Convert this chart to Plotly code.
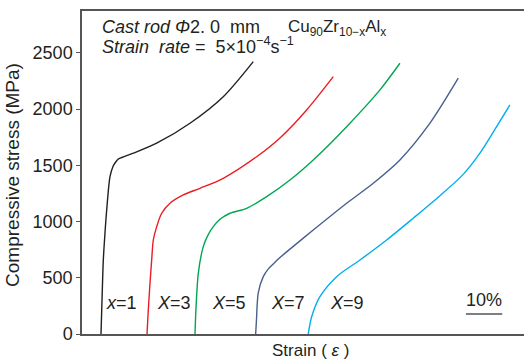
import plotly.graph_objects as go

# Strain (%, horizontally offset per curve) and compressive stress (MPa)
labels = ["x=1", "X=3", "X=5", "X=7", "X=9"]
colors = ["#231f20", "#ed1c24", "#00a651", "#4a5f8e", "#00aeef"]

strain_x1 = [5.28, 5.56, 5.92, 6.39, 6.86, 7.78, 8.61, 9.17, 10.0, 11.03, 14.25, 20.75, 30.0, 39.25, 47.58]
stress_x1 = [0, 300, 658, 900, 1103, 1400, 1490, 1521, 1555, 1570, 1608, 1697, 1875, 2111, 2423]

strain_x3 = [18.06, 18.42, 18.89, 19.36, 19.81, 20.75, 22.14, 24.44, 28.14, 32.78, 39.25, 48.53, 55.0, 62.42, 69.81]
stress_x3 = [0, 214, 450, 658, 836, 955, 1074, 1163, 1237, 1296, 1385, 1577, 1744, 1993, 2289]

strain_x5 = [31.39, 31.7, 32.31, 33.69, 35.0, 36.47, 38.33, 41.11, 45.75, 51.31, 57.78, 64.25, 73.53, 82.78, 88.33]
stress_x5 = [0, 250, 540, 777, 880, 955, 1020, 1074, 1118, 1222, 1370, 1548, 1844, 2171, 2408]

strain_x7 = [48.25, 48.47, 48.97, 50.36, 51.67, 53.06, 55.0, 57.78, 64.25, 73.53, 80.92, 88.33, 96.67, 104.53]
stress_x7 = [0, 125, 365, 510, 575, 620, 680, 755, 925, 1163, 1341, 1548, 1875, 2275]

strain_x9 = [62.86, 63.81, 66.11, 70.75, 77.22, 84.64, 92.03, 99.44, 105.92, 110.56, 115.19, 118.89]
stress_x9 = [0, 154, 332, 510, 658, 836, 1030, 1230, 1420, 1608, 1844, 2037]

strains = [strain_x1, strain_x3, strain_x5, strain_x7, strain_x9]
stresses = [stress_x1, stress_x3, stress_x5, stress_x7, stress_x9]

label_x = [11.1, 25.6, 40.8, 57.2, 73.75]
y_ticks = [0, 500, 1000, 1500, 2000, 2500]

FONT = "Arial, Liberation Sans, sans-serif"
TXT = "#231f20"

fig = go.Figure()
for s, t, c in zip(strains, stresses, colors):
    fig.add_trace(go.Scatter(x=s, y=t, mode="lines",
                             line=dict(color=c, width=1.4, shape="spline", smoothing=0.8),
                             showlegend=False, hoverinfo="skip"))

ann = []
for lab, lx in zip(labels, label_x):
    a, b = lab.split("=")
    ann.append(dict(x=lx, y=276, xref="x", yref="y", text=f"<i>{a}</i>={b}",
                    showarrow=False, font=dict(size=18, color=TXT, family=FONT)))
ann.append(dict(x=111.7, y=300, xref="x", yref="y", text="10%", showarrow=False,
                font=dict(size=18, color=TXT, family=FONT)))
ann.append(dict(x=5.0, y=2731, xref="x", yref="y", xanchor="left",
                text="<i>Cast rod \u03a6</i>2. 0\u00a0\u00a0mm", showarrow=False,
                font=dict(size=18, color=TXT, family=FONT)))
ann.append(dict(x=5.0, y=2562, xref="x", yref="y", xanchor="left",
                text="<i>Strain\u00a0\u00a0rate</i> =\u00a0 5\u00d710<sup>\u22124</sup>s<sup>\u22121</sup>",
                showarrow=False, font=dict(size=18, color=TXT, family=FONT)))
ann.append(dict(x=56.7, y=2722, xref="x", yref="y", xanchor="left",
                text="Cu<sub>90</sub>Zr<sub>10\u2212x</sub>Al<sub>x</sub>", showarrow=False,
                font=dict(size=17, color=TXT, family=FONT)))
# axis titles
ann.append(dict(x=63.6, y=0, xref="x", yref="paper", yanchor="middle", yshift=-16,
                text="Strain ( <i>\u03b5</i> )", showarrow=False,
                font=dict(size=17, color=TXT, family=FONT)))
ann.append(dict(x=0, y=1415, xref="paper", yref="y", xanchor="center", xshift=-69,
                text="Compressive stress (MPa)", textangle=-90, showarrow=False,
                font=dict(size=19, color=TXT, family=FONT)))

fig.add_shape(type="line", x0=106.67, x1=116.75, y0=178, y1=178, xref="x", yref="y",
              line=dict(color="#555555", width=1.5))

fig.update_layout(
    width=525, height=363,
    margin=dict(l=82, r=1, t=11, b=29),
    paper_bgcolor="white", plot_bgcolor="white",
    annotations=ann,
    font=dict(family=FONT, color=TXT),
    xaxis=dict(range=[0, 122.8], showgrid=False, zeroline=False, showline=True,
               linecolor="#555555", linewidth=1.5, mirror=True, showticklabels=False, ticks=""),
    yaxis=dict(range=[0, 2873], showgrid=False, zeroline=False, showline=True,
               linecolor="#555555", linewidth=1.5, ticks="outside", ticklen=4, tickcolor="#555555",
               tickvals=y_ticks, tickfont=dict(size=18, color=TXT)),
)

fig.write_html("out.html")
